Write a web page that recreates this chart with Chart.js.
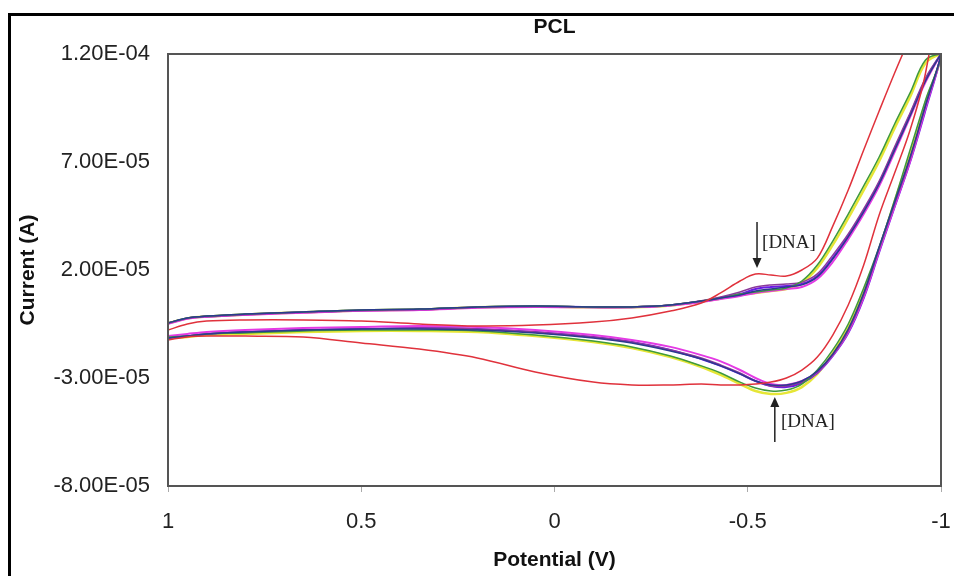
<!DOCTYPE html>
<html>
<head>
<meta charset="utf-8">
<title>PCL</title>
<script src="https://cdn.jsdelivr.net/npm/chart.js@4.4.1/dist/chart.umd.min.js"></script>
<style>
  html, body { margin: 0; padding: 0; background: #fff; }
  #wrap { width: 954px; height: 576px; position: relative; overflow: hidden; }
</style>
</head>
<body>
<div id="wrap"><canvas id="cv" width="954" height="576"></canvas></div>
<script>
// current values are read in units of 1e-5 A
const UNIT = 1e-5;

// potential grid of the forward sweep (V), 1 -> -1
const potentialGrid = [1, 0.95, 0.9, 0.8, 0.65, 0.5, 0.35, 0.2, 0.05, -0.1, -0.2, -0.3, -0.38, -0.43,
  -0.48, -0.52, -0.56, -0.6, -0.64, -0.68, -0.72, -0.76, -0.8, -0.84, -0.88, -0.92, -0.96, -1];
// return sweep, -0.96 -> 1
const returnGrid = potentialGrid.slice(0, -1).reverse();

const xTicks = [1, 0.5, 0, -0.5, -1];
const yTicks = [-8e-5, -3e-5, 2e-5, 7e-5, 1.2e-4];

/* ---------- forward sweeps ---------- */
const redFwd = [-0.78, -0.50, -0.36, -0.31, -0.31, -0.36, -0.50, -0.59, -0.55, -0.41, -0.22, 0.10, 0.47, 0.94,
  1.49, 1.81, 1.77, 1.72, 2.00, 2.55, 4.03, 5.70, 7.56, 9.36, 11.12, 12.79, 14.41, 15.98];
const blueFwd = [-0.45, -0.22, -0.13, -0.04, 0.06, 0.15, 0.19, 0.29, 0.33, 0.29, 0.29, 0.38, 0.56, 0.70,
  0.84, 1.03, 1.12, 1.21, 1.31, 1.68, 2.51, 3.53, 4.69, 5.98, 7.55, 9.13, 10.75, 12.0];
const greenFwd = [-0.45, -0.22, -0.13, -0.04, 0.06, 0.15, 0.19, 0.29, 0.33, 0.29, 0.29, 0.38, 0.56, 0.70,
  0.89, 0.98, 1.07, 1.17, 1.49, 2.23, 3.34, 4.59, 5.89, 7.23, 8.76, 10.20, 11.72, 12.0];
const yellowFwd = [-0.47, -0.24, -0.15, -0.06, 0.04, 0.13, 0.17, 0.27, 0.31, 0.27, 0.27, 0.36, 0.54, 0.68,
  0.84, 0.94, 1.03, 1.12, 1.40, 2.09, 3.16, 4.40, 5.70, 7.04, 8.57, 10.01, 11.58, 12.0];
const purpleFwd = [-0.47, -0.24, -0.15, -0.06, 0.04, 0.13, 0.17, 0.27, 0.31, 0.29, 0.29, 0.38, 0.58, 0.75,
  0.98, 1.21, 1.31, 1.35, 1.44, 1.82, 2.69, 3.67, 4.83, 6.12, 7.70, 9.27, 10.89, 12.0];
const magentaFwd = [-0.50, -0.26, -0.17, -0.08, 0.02, 0.11, 0.15, 0.25, 0.29, 0.27, 0.27, 0.36, 0.52, 0.66,
  0.80, 0.94, 1.03, 1.12, 1.21, 1.58, 2.37, 3.43, 4.59, 5.89, 7.46, 9.08, 10.70, 12.0];
const violetFwd = [-0.47, -0.24, -0.15, -0.06, 0.04, 0.13, 0.17, 0.27, 0.31, 0.28, 0.28, 0.37, 0.55, 0.72,
  0.89, 1.12, 1.21, 1.26, 1.35, 1.72, 2.56, 3.57, 4.73, 6.03, 7.60, 9.18, 10.80, 12.0];

/* ---------- return sweeps ---------- */
const redBack = [11.12, 8.48, 6.49, 4.55, 2.23, 0.38, -1.01, -2.03, -2.63, -3.00, -3.19, -3.28, -3.32, -3.32,
  -3.28, -3.32, -3.32, -3.19, -2.72, -2.07, -1.66, -1.38, -1.10, -1.06, -1.06, -1.10, -1.24];
const blueBack = [9.64, 7.23, 5.15, 3.06, 0.94, -0.73, -1.89, -2.68, -3.14, -3.32, -3.32, -3.14, -2.81, -2.44,
  -2.12, -1.75, -1.38, -1.15, -0.92, -0.78, -0.73, -0.73, -0.78, -0.87, -0.96, -1.06, -1.15];
const greenBack = [9.87, 7.56, 5.24, 3.06, 1.17, -0.50, -1.70, -2.63, -3.28, -3.56, -3.60, -3.46, -3.19, -2.77,
  -2.44, -1.98, -1.56, -1.29, -1.01, -0.82, -0.78, -0.78, -0.82, -0.92, -0.96, -1.06, -1.10];
const yellowBack = [9.73, 7.37, 5.15, 2.97, 1.03, -0.64, -1.84, -2.81, -3.42, -3.69, -3.74, -3.60, -3.28, -2.86,
  -2.49, -2.03, -1.61, -1.33, -1.06, -0.87, -0.82, -0.82, -0.87, -0.96, -1.01, -1.10, -1.15];
const purpleBack = [9.59, 7.14, 5.06, 2.97, 0.84, -0.82, -1.94, -2.72, -3.19, -3.37, -3.37, -3.14, -2.77, -2.40,
  -2.07, -1.70, -1.33, -1.10, -0.87, -0.73, -0.69, -0.73, -0.78, -0.87, -0.96, -1.06, -1.15];
const magentaBack = [9.50, 7.04, 4.96, 2.88, 0.75, -0.87, -1.94, -2.72, -3.14, -3.32, -3.28, -3.00, -2.63, -2.23,
  -1.94, -1.56, -1.24, -1.01, -0.78, -0.64, -0.59, -0.64, -0.69, -0.78, -0.87, -0.96, -1.06];
const violetBack = [9.41, 7.00, 4.92, 2.83, 0.70, -0.92, -1.98, -2.77, -3.23, -3.42, -3.37, -3.14, -2.81, -2.44,
  -2.12, -1.70, -1.33, -1.10, -0.87, -0.73, -0.69, -0.73, -0.78, -0.87, -0.96, -1.06, -1.15];

// the two "[DNA]" arrows, in data units
const dnaMarks = [
  { v: -0.524, tail: 4.22e-5, head: 2.09e-5, textV: -0.537, textI: 3.25e-5 },
  { v: -0.570, tail: -5.96e-5, head: -3.88e-5, textV: -0.586, textI: -5.04e-5 },
];

/* ---------- helpers ---------- */
function loop(fwd, back) {
  const a = potentialGrid.map((v, i) => ({ x: v, y: fwd[i] * UNIT }));
  const b = returnGrid.map((v, i) => ({ x: v, y: back[i] * UNIT }));
  return a.concat(b);
}

function sci(v) {
  const [m, e] = v.toExponential(2).split("e");
  const n = parseInt(e, 10);
  return m + "E" + (n < 0 ? "-" : "+") + String(Math.abs(n)).padStart(2, "0");
}

const line = (data, color, width) => ({
  data,
  borderColor: color,
  borderWidth: width || 1.5,
  pointRadius: 0,
  showLine: true,
  tension: 0.35,
  fill: false,
});

// first dataset is drawn on top
const datasets = [
  line(loop(redFwd, redBack), "#e0323c", 1.5),
  line(loop(blueFwd, blueBack), "#2b3b8f", 1.5),
  line(loop(greenFwd, greenBack), "#3f9a3c", 1.5),
  line(loop(purpleFwd, purpleBack), "#8b3a9b", 1.5),
  line(loop(magentaFwd, magentaBack), "#e43ae4", 2),
  line(loop(violetFwd, violetBack), "#6b19e6", 2),
  line(loop(yellowFwd, yellowBack), "#e6e636", 2.5),
];

const sansFont = "'Liberation Sans', Arial, sans-serif";

/* ---------- frame, title, plot box and arrows ---------- */
const decor = {
  id: "decor",
  afterDraw(chart) {
    const { ctx, chartArea: ca, scales } = chart;
    const xs = scales.x, ys = scales.y;
    ctx.save();
    // plot box
    ctx.strokeStyle = "#555";
    ctx.lineWidth = 2;
    ctx.strokeRect(ca.left, ca.top, ca.right - ca.left, ca.bottom - ca.top);
    // outer frame
    ctx.strokeStyle = "#000";
    ctx.lineWidth = 3;
    ctx.strokeRect(9.5, 14.5, 1000, 600);

    // title over the plot centre
    ctx.fillStyle = "#111";
    ctx.font = "bold 21px " + sansFont;
    ctx.textAlign = "center";
    ctx.textBaseline = "middle";
    ctx.fillText("PCL", (ca.left + ca.right) / 2, 27);

    // arrows + labels
    ctx.fillStyle = "#222";
    ctx.strokeStyle = "#222";
    ctx.lineWidth = 1.5;
    ctx.font = "19px 'Liberation Serif', 'Times New Roman', serif";
    ctx.textAlign = "left";
    dnaMarks.forEach((m) => {
      const px = xs.getPixelForValue(m.v);
      const y0 = ys.getPixelForValue(m.tail);
      const y1 = ys.getPixelForValue(m.head);
      const dir = y1 > y0 ? 1 : -1;
      ctx.beginPath();
      ctx.moveTo(px, y0);
      ctx.lineTo(px, y1 - dir * 9);
      ctx.stroke();
      ctx.beginPath();
      ctx.moveTo(px, y1);
      ctx.lineTo(px - 4.5, y1 - dir * 10);
      ctx.lineTo(px + 4.5, y1 - dir * 10);
      ctx.closePath();
      ctx.fill();
      ctx.fillText("[DNA]", xs.getPixelForValue(m.textV), ys.getPixelForValue(m.textI));
    });
    ctx.restore();
  },
};

new Chart(document.getElementById("cv"), {
  type: "scatter",
  data: { datasets },
  options: {
    responsive: false,
    animation: false,
    devicePixelRatio: 1,
    layout: { padding: { left: 0, right: 13, top: 54, bottom: 0 } },
    plugins: {
      legend: { display: false },
      tooltip: { enabled: false },
      title: { display: false },
    },
    scales: {
      x: {
        type: "linear",
        min: -1,
        max: 1,
        reverse: true,
        afterFit: (s) => { s.height = 90; s.paddingLeft = 0; s.paddingRight = 0; },
        afterBuildTicks: (s) => { s.ticks = xTicks.map((v) => ({ value: v })); },
        ticks: {
          color: "#222",
          padding: 17,
          font: { family: sansFont, size: 22 },
          callback: (v) => String(Number(v.toFixed(2)) || 0),
        },
        grid: { drawOnChartArea: false, drawTicks: true, tickLength: 6, color: "#aaa" },
        border: { display: false },
        title: {
          display: true,
          text: "Potential (V)",
          color: "#111",
          font: { family: sansFont, size: 21, weight: "bold" },
          padding: { top: 0, bottom: 3 },
        },
      },
      y: {
        type: "linear",
        min: -8e-5,
        max: 1.2e-4,
        afterFit: (s) => { s.width = 168; s.paddingTop = 0; s.paddingBottom = 0; },
        afterBuildTicks: (s) => { s.ticks = yTicks.map((v) => ({ value: v })); },
        ticks: {
          color: "#222",
          padding: 18,
          font: { family: sansFont, size: 22 },
          callback: (v) => sci(v),
        },
        grid: { display: false, drawTicks: false },
        border: { display: false },
        title: {
          display: true,
          text: "Current (A)",
          color: "#111",
          font: { family: sansFont, size: 21, weight: "bold" },
          padding: { top: 16, bottom: 0 },
        },
      },
    },
  },
  plugins: [decor],
});
</script>
</body>
</html>
